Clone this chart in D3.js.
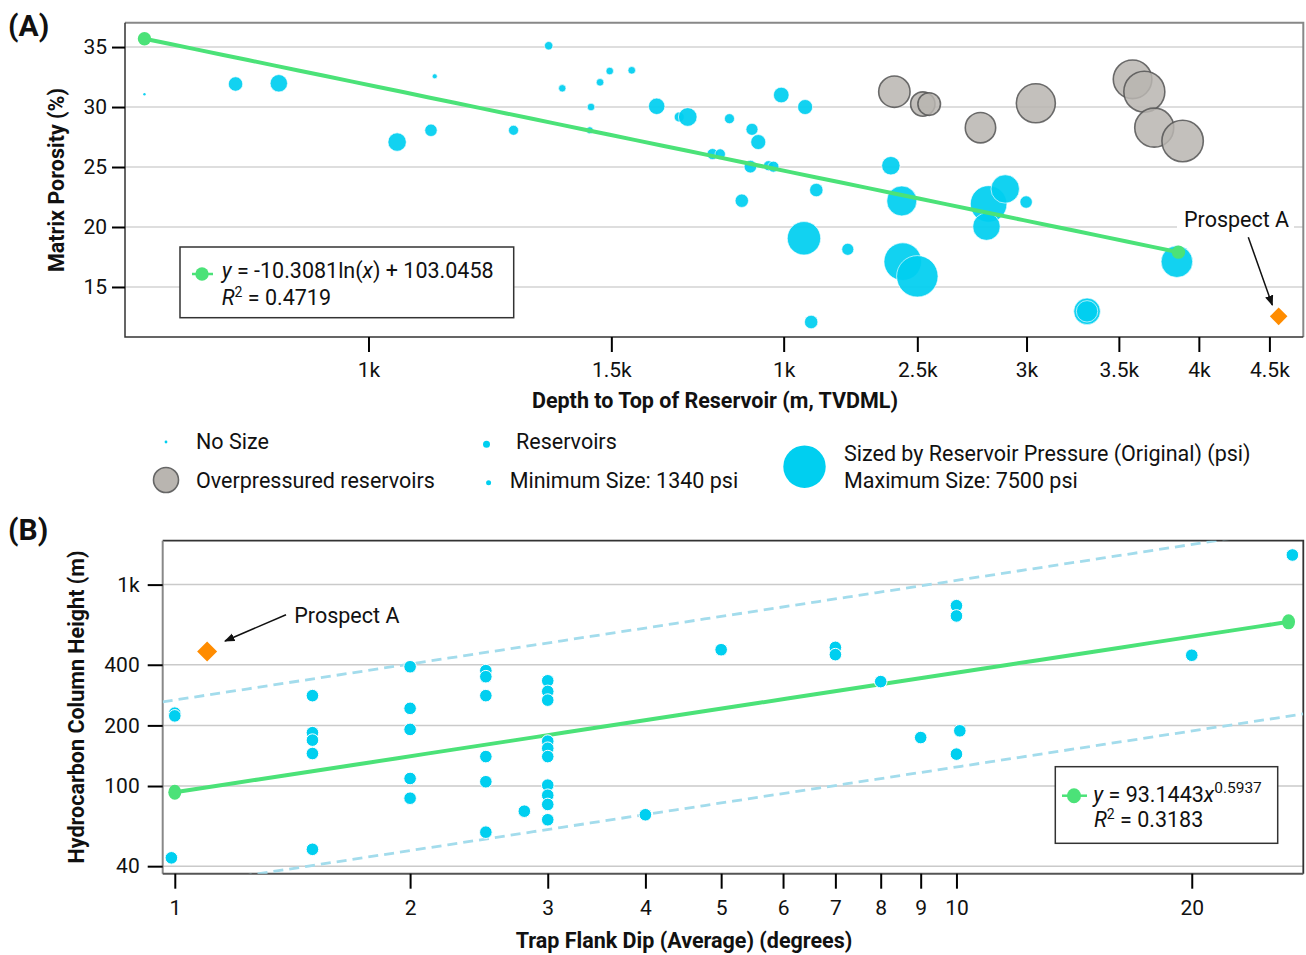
<!DOCTYPE html>
<html><head><meta charset="utf-8">
<script src="https://cdn.jsdelivr.net/npm/d3@7"></script>
<style>body{margin:0;background:#fff}svg{display:block}</style>
</head><body>
<svg id="c" width="1306" height="955"></svg>
<script>
// ---------------- DATA: panel A ----------------
const depthA    = [688, 801, 861, 1049, 1110, 1117, 1274, 1351, 1382, 1450, 1447, 1472, 1496, 1552, 1618, 1680, 1704, 1827, 1897, 1917, 1776, 1799, 1892, 1950, 1966, 1992, 2073, 2112, 1865, 2069, 2226, 2094, 2392, 2436, 2816, 2895, 2806, 2998, 2440, 2500, 3319, 3319, 3856];
const porosityA = [31.06, 31.92, 31.98, 27.08, 28.06, 32.56, 28.06, 35.11, 31.56, 30.0, 28.06, 32.06, 33.0, 33.06, 30.06, 29.17, 29.17, 29.03, 28.14, 27.08, 26.08, 26.08, 25.03, 25.11, 25.03, 31.0, 30.0, 23.08, 22.19, 19.06, 18.14, 12.08, 25.11, 22.17, 21.92, 23.17, 20.03, 22.08, 17.11, 15.89, 12.97, 12.97, 17.11];
const pressureA = [null, 2888, 3382, 3547, 2559, 1340, 2164, 1900, 1735, 1768, 1669, 1768, 1768, 1768, 3218, 2164, 3580, 2164, 2493, 2987, 2328, 2229, 2592, 2164, 2328, 3086, 2987, 2723, 2723, 6017, 2493, 2723, 3547, 5458, 6545, 5194, 5029, 2559, 6709, 7335, 4898, 4041, 5721];
const overDepthA    = [2406, 2523, 2550, 2778, 3047, 3581, 3652, 3713, 3893];
const overPorosityA = [31.28, 30.25, 30.25, 28.28, 30.31, 32.31, 31.28, 28.28, 27.17];
const overPressureA = [5853, 4700, 4403, 5688, 7105, 7039, 7434, 7105, 7500];
const prospectDepthA = [4570];
const prospectPorosityA = [12.55];
const xTicksA = [1000, 1500, 2000, 2500, 3000, 3500, 4000, 4500];
const xTickLabelsA = ["1k", "1.5k", "1k", "2.5k", "3k", "3.5k", "4k", "4.5k"];
const yTicksA = [15, 20, 25, 30, 35];
const trendCoefA = [-10.3081, 103.0458];   // y = a ln(x) + b
const trendRangeA = [688, 3866];
const pressureLegend = [1340, 7500];

// ---------------- DATA: panel B ----------------
const dipB    = [1.0, 1.0, 0.99, 1.5, 1.5, 1.5, 1.5, 1.5, 2, 2, 2, 2, 2, 2.5, 2.5, 2.5, 2.5, 2.5, 2.5, 2.8, 3, 3, 3, 3, 3, 3, 3, 3, 3, 3, 4, 5, 7, 7, 8, 9, 10, 10, 10.1, 10, 20, 26.9];
const heightB = [230, 223, 44, 281, 184, 169, 145, 48.5, 391, 243, 191, 109, 87, 374, 349, 281, 140, 105, 59, 75, 333, 295, 267, 167, 154, 140, 101, 90, 81, 68, 72, 475, 488, 449, 330, 174, 786, 699, 188, 144, 446, 1403];
const prospectDipB = [1.1];
const prospectHeightB = [465];
const xTicksB = [1, 2, 3, 4, 5, 6, 7, 8, 9, 10, 20];
const yTicksB = [40, 100, 200, 400, 1000];
const yTickLabelsB = ["40", "100", "200", "400", "1k"];
const trendCoefB = [93.1443, 0.5937];      // y = a x^b
const trendRangeB = [1.0, 26.6];
const bandFactorsB = [2.87, 1 / 2.94];

// ---------------- STYLE ----------------
const FONT = "Roboto, 'Noto Sans', sans-serif";
const FS = 21.5;
const CYAN = "#00cff0", GRAY = "#b9b5b0", GREEN = "#4be278", ORANGE = "#ff8c00", BAND = "#a3dcec";

const svg = d3.select("#c");
const defs = svg.append("defs");
defs.append("marker").attr("id", "arr").attr("viewBox", "0 0 10 10").attr("refX", 9).attr("refY", 5)
  .attr("markerWidth", 7).attr("markerHeight", 7).attr("orient", "auto")
  .append("path").attr("d", "M0,1 L10,5 L0,9 Z").attr("fill", "#111");

function styleAxis(g) {
  g.select(".domain").remove();
  g.selectAll(".tick line").attr("stroke", "#000").attr("stroke-width", 2);
  g.selectAll(".tick text").attr("font-size", 21).attr("font-family", FONT).attr("fill", "#111");
}
function txt(g, x, y, s, opts = {}) {
  return g.append("text").attr("x", x).attr("y", y).attr("font-family", FONT)
    .attr("font-size", opts.size || FS).attr("font-weight", opts.bold ? "bold" : null)
    .attr("text-anchor", opts.anchor || "start").attr("fill", "#111").text(s);
}

// ================= PANEL A =================
const A = {l: 125, r: 1303.3, t: 22.7, b: 337};
const xA = d3.scaleLog().domain([666, 4762]).range([A.l, A.r]);
const yA = d3.scaleLinear().domain([10.83, 37.03]).range([A.b, A.t]);
const rA = d3.scaleLinear().domain(pressureLegend).range([2.5, 21.2]).clamp(true);
const gA = svg.append("g");

gA.selectAll("line.grid").data(yTicksA).join("line").attr("class", "grid")
  .attr("x1", A.l).attr("x2", A.r).attr("y1", d => yA(d)).attr("y2", d => yA(d))
  .attr("stroke", "#dedede").attr("stroke-width", 2);

// frame
gA.append("path").attr("d", `M${A.l},${A.t}H${A.r}V${A.b}`).attr("fill", "none").attr("stroke", "#888").attr("stroke-width", 2);
gA.append("path").attr("d", `M${A.l},${A.t}V${A.b}H${A.r}`).attr("fill", "none").attr("stroke", "#333").attr("stroke-width", 1.5);

styleAxis(gA.append("g").attr("transform", `translate(${A.l},0)`)
  .call(d3.axisLeft(yA).tickValues(yTicksA).tickSize(13).tickPadding(5).tickFormat(d3.format("d"))));
styleAxis(gA.append("g").attr("transform", `translate(0,${A.b})`)
  .call(d3.axisBottom(xA).tickValues(xTicksA).tickSize(15).tickPadding(10.5).tickFormat((d, i) => xTickLabelsA[i])));

txt(gA, 715, 408, "Depth to Top of Reservoir (m, TVDML)", {bold: true, anchor: "middle"});
txt(gA, 0, 0, "Matrix Porosity (%)", {bold: true, anchor: "middle"})
  .attr("transform", "translate(63.5,180) rotate(-90)");
txt(svg, 8, 36, "(A)", {bold: true, size: 30});

// blue reservoirs
const resA = depthA.map((d, i) => ({x: d, y: porosityA[i], p: pressureA[i]}));
gA.append("g").selectAll("circle").data(resA).join("circle")
  .attr("cx", d => xA(d.x)).attr("cy", d => yA(d.y))
  .attr("r", d => d.p == null ? 1.2 : rA(d.p))
  .attr("fill", CYAN).attr("fill-opacity", 0.93)
  .attr("stroke", d => d.p == null ? "none" : "#fff").attr("stroke-width", 0.8).attr("stroke-opacity", 0.8);

// overpressured
const overA = overDepthA.map((d, i) => ({x: d, y: overPorosityA[i], p: overPressureA[i]}));
gA.append("g").selectAll("circle").data(overA).join("circle")
  .attr("cx", d => xA(d.x)).attr("cy", d => yA(d.y)).attr("r", d => rA(d.p) - 0.5)
  .attr("fill", GRAY).attr("fill-opacity", 0.85)
  .attr("stroke", "#555").attr("stroke-opacity", 0.85).attr("stroke-width", 1.6);

// trend line A
const trendFnA = x => trendCoefA[0] * Math.log(x) + trendCoefA[1];
const tA = d3.range(0, 41).map(i => {
  const lx = Math.log(trendRangeA[0]) + i / 40 * (Math.log(trendRangeA[1]) - Math.log(trendRangeA[0]));
  return Math.exp(lx);
});
gA.append("path").datum(tA).attr("d", d3.line().x(d => xA(d)).y(d => yA(trendFnA(d))))
  .attr("fill", "none").attr("stroke", GREEN).attr("stroke-width", 4);
gA.selectAll("circle.tend").data(trendRangeA).join("circle").attr("class", "tend")
  .attr("cx", d => xA(d)).attr("cy", d => yA(trendFnA(d))).attr("r", 6.7).attr("fill", GREEN);

// prospect A
const diamond = d3.symbol().type(d3.symbolSquare);
gA.selectAll("path.pros").data(prospectDepthA).join("path").attr("class", "pros")
  .attr("d", diamond.size(155)())
  .attr("transform", (d, i) => `translate(${xA(d)},${yA(prospectPorosityA[i])}) rotate(45)`)
  .attr("fill", ORANGE);
gA.append("rect").attr("x", 1177).attr("y", 207).attr("width", 117).attr("height", 27).attr("fill", "#fff");
txt(gA, 1184, 226.7, "Prospect A");
gA.append("line").attr("x1", 1248.3).attr("y1", 237.3).attr("x2", 1272.3).attr("y2", 305)
  .attr("stroke", "#111").attr("stroke-width", 1.5).attr("marker-end", "url(#arr)");

// equation legend A
gA.append("rect").attr("x", 180).attr("y", 247).attr("width", 333.7).attr("height", 70.7)
  .attr("fill", "#fff").attr("stroke", "#333").attr("stroke-width", 1.5);
gA.append("line").attr("x1", 192).attr("x2", 213).attr("y1", 274).attr("y2", 274).attr("stroke", GREEN).attr("stroke-width", 2.5);
gA.append("circle").attr("cx", 202).attr("cy", 274).attr("r", 6.7).attr("fill", GREEN);
{
  const t = txt(gA, 221.7, 278.3, "");
  t.append("tspan").attr("font-style", "italic").text("y");
  t.append("tspan").text(" = -10.3081ln(");
  t.append("tspan").attr("font-style", "italic").text("x");
  t.append("tspan").text(") + 103.0458");
  const t2 = txt(gA, 221.7, 305, "");
  t2.append("tspan").attr("font-style", "italic").text("R");
  t2.append("tspan").attr("dy", -8).attr("font-size", 14).text("2");
  t2.append("tspan").attr("dy", 8).text(" = 0.4719");
}

// size legend
const gL = svg.append("g");
gL.append("circle").attr("cx", 166).attr("cy", 442).attr("r", 1.4).attr("fill", CYAN);
txt(gL, 196, 449, "No Size");
gL.append("circle").attr("cx", 166).attr("cy", 480).attr("r", 12.5).attr("fill", GRAY).attr("stroke", "#666").attr("stroke-width", 1.6);
txt(gL, 196, 487.5, "Overpressured reservoirs");
gL.append("circle").attr("cx", 486.5).attr("cy", 444.3).attr("r", 3.5).attr("fill", CYAN);
txt(gL, 516, 449, "Reservoirs");
gL.append("circle").attr("cx", 488.6).attr("cy", 482.7).attr("r", rA(pressureLegend[0])).attr("fill", CYAN);
txt(gL, 509.7, 487.5, "Minimum Size: " + pressureLegend[0] + " psi");
gL.append("circle").attr("cx", 804.5).attr("cy", 466.7).attr("r", rA(pressureLegend[1])).attr("fill", CYAN);
txt(gL, 844, 461, "Sized by Reservoir Pressure (Original) (psi)");
txt(gL, 844, 487.5, "Maximum Size: " + pressureLegend[1] + " psi");

// ================= PANEL B =================
const B = {l: 162.7, r: 1303.3, t: 540.7, b: 873.7};
const xB = d3.scaleLog().domain([0.965, 27.78]).range([B.l, B.r]);
const yB = d3.scaleLog().domain([36.7, 1652]).range([B.b, B.t]);
const gB = svg.append("g");
defs.append("clipPath").attr("id", "clipB").append("rect")
  .attr("x", B.l).attr("y", B.t).attr("width", B.r - B.l).attr("height", B.b - B.t);

gB.selectAll("line.grid").data(yTicksB).join("line").attr("class", "grid")
  .attr("x1", B.l).attr("x2", B.r).attr("y1", d => yB(d)).attr("y2", d => yB(d))
  .attr("stroke", "#cacaca").attr("stroke-width", 1.5);

gB.append("path").attr("d", `M${B.l},${B.t}H${B.r}V${B.b}`).attr("fill", "none").attr("stroke", "#333").attr("stroke-width", 1.8);
gB.append("path").attr("d", `M${B.l},${B.t}V${B.b}`).attr("fill", "none").attr("stroke", "#888").attr("stroke-width", 2);
gB.append("path").attr("d", `M${B.l},${B.b}H${B.r}`).attr("fill", "none").attr("stroke", "#555").attr("stroke-width", 2);

styleAxis(gB.append("g").attr("transform", `translate(${B.l},0)`)
  .call(d3.axisLeft(yB).tickValues(yTicksB).tickSize(15).tickPadding(8).tickFormat((d, i) => yTickLabelsB[i])));
styleAxis(gB.append("g").attr("transform", `translate(0,${B.b})`)
  .call(d3.axisBottom(xB).tickValues(xTicksB).tickSize(15).tickPadding(11.5).tickFormat(d3.format("d"))));

txt(gB, 684, 948, "Trap Flank Dip (Average) (degrees)", {bold: true, anchor: "middle"});
txt(gB, 0, 0, "Hydrocarbon Column Height (m)", {bold: true, anchor: "middle"})
  .attr("transform", "translate(83.5,707) rotate(-90)");
txt(svg, 8, 540, "(B)", {bold: true, size: 30});

// bands and trend
const trendFnB = x => trendCoefB[0] * Math.pow(x, trendCoefB[1]);
const dom = xB.domain();
const bx = d3.range(0, 41).map(i => Math.exp(Math.log(dom[0]) + i / 40 * (Math.log(dom[1]) - Math.log(dom[0]))));
const gBand = gB.append("g").attr("clip-path", "url(#clipB)");
bandFactorsB.forEach(f => {
  gBand.append("path").datum(bx).attr("d", d3.line().x(d => xB(d)).y(d => yB(trendFnB(d) * f)))
    .attr("fill", "none").attr("stroke", BAND).attr("stroke-width", 2.8).attr("stroke-dasharray", "10,6");
});
const tB = d3.range(0, 41).map(i => Math.exp(Math.log(trendRangeB[0]) + i / 40 * (Math.log(trendRangeB[1]) - Math.log(trendRangeB[0]))));
gB.append("path").datum(tB).attr("d", d3.line().x(d => xB(d)).y(d => yB(trendFnB(d))))
  .attr("fill", "none").attr("stroke", GREEN).attr("stroke-width", 4);
gB.selectAll("ellipse.tend").data(trendRangeB).join("ellipse").attr("class", "tend")
  .attr("cx", d => xB(d)).attr("cy", d => yB(trendFnB(d))).attr("rx", 6.5).attr("ry", 7.5).attr("fill", GREEN);

// points B
gB.append("g").selectAll("circle").data(dipB.map((d, i) => [d, heightB[i]])).join("circle")
  .attr("cx", d => xB(d[0])).attr("cy", d => yB(d[1])).attr("r", 6.3)
  .attr("fill", CYAN).attr("stroke", "#fff").attr("stroke-width", 1);

// prospect B
gB.selectAll("path.pros").data(prospectDipB).join("path").attr("class", "pros")
  .attr("d", diamond.size(200)())
  .attr("transform", (d, i) => `translate(${xB(d)},${yB(prospectHeightB[i])}) rotate(45)`)
  .attr("fill", ORANGE);
txt(gB, 294.3, 623.3, "Prospect A");
gB.append("line").attr("x1", 286).attr("y1", 614.7).attr("x2", 225).attr("y2", 641)
  .attr("stroke", "#111").attr("stroke-width", 1.5).attr("marker-end", "url(#arr)");

// equation legend B
gB.append("rect").attr("x", 1055.3).attr("y", 766.7).attr("width", 222.4).attr("height", 76.6)
  .attr("fill", "#fff").attr("stroke", "#333").attr("stroke-width", 1.5);
gB.append("line").attr("x1", 1062).attr("x2", 1087).attr("y1", 795.7).attr("y2", 795.7).attr("stroke", GREEN).attr("stroke-width", 2.5);
gB.append("ellipse").attr("cx", 1074).attr("cy", 795.7).attr("rx", 7).attr("ry", 7.5).attr("fill", GREEN);
{
  const t = txt(gB, 1093.3, 801.7, "");
  t.append("tspan").attr("font-style", "italic").text("y");
  t.append("tspan").text(" = 93.1443");
  t.append("tspan").attr("font-style", "italic").text("x");
  t.append("tspan").attr("dy", -9).attr("font-size", 15.5).text("0.5937");
  const t2 = txt(gB, 1094, 826.7, "");
  t2.append("tspan").attr("font-style", "italic").text("R");
  t2.append("tspan").attr("dy", -8).attr("font-size", 14).text("2");
  t2.append("tspan").attr("dy", 8).text(" = 0.3183");
}
</script>
</body></html>
